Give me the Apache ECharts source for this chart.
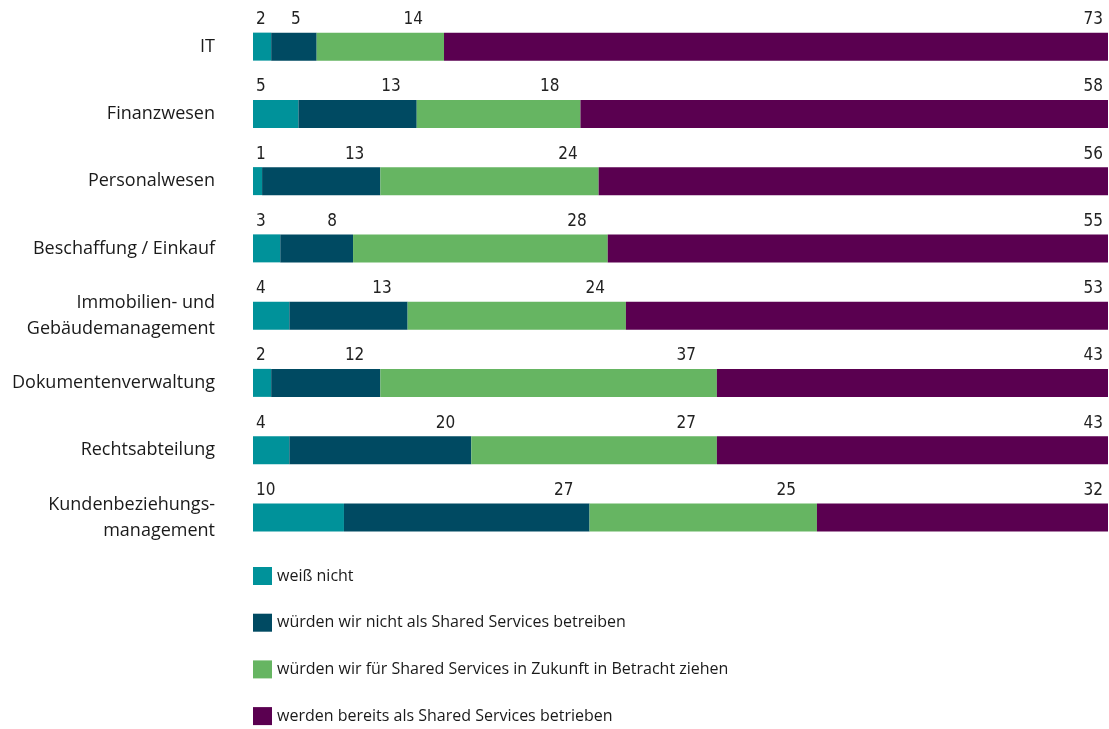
<!DOCTYPE html>
<html>
<head>
<meta charset="utf-8">
<script src="https://cdn.jsdelivr.net/npm/echarts@6/dist/echarts.min.js"></script>
<style>
html,body{margin:0;padding:0;background:#fff;}
#chart{width:1109px;height:729px;}
</style>
</head>
<body>
<div id="chart"></div>
<script>
const categories = [
  "IT",
  "Finanzwesen",
  "Personalwesen",
  "Beschaffung / Einkauf",
  "Immobilien- und\nGebäudemanagement",
  "Dokumentenverwaltung",
  "Rechtsabteilung",
  "Kundenbeziehungs-\nmanagement"
];
const seriesNames = [
  "weiß nicht",
  "würden wir nicht als Shared Services betreiben",
  "würden wir für Shared Services in Zukunft in Betracht ziehen",
  "werden bereits als Shared Services betrieben"
];
const weissNicht   = [2, 5, 1, 3, 4, 2, 4, 10];
const nichtSSC     = [5, 13, 13, 8, 13, 12, 20, 27];
const zukunftSSC   = [14, 18, 24, 28, 24, 37, 27, 25];
const bereitsSSC   = [73, 58, 56, 55, 53, 43, 43, 32];

const colors = ["#00929A", "#004A62", "#66B562", "#5A0050"];
const valueFont = '"Liberation Sans Narrow","DejaVu Sans Condensed","Roboto",sans-serif';
const textFont = '"Open Sans","Noto Sans",sans-serif';

function mkLabel(idx) {
  const base = {
    show: true,
    fontFamily: valueFont,
    fontSize: 17,
    color: "#222",
    verticalAlign: "middle"
  };
  if (idx === 0) {
    return Object.assign(base, { position: [3, -13], align: "left" });
  }
  const offs = [0, -16, -21, -5];
  return Object.assign(base, { position: ["100%", -13], align: "right", offset: [offs[idx], 0] });
}

const dataSets = [weissNicht, nichtSSC, zukunftSSC, bereitsSSC];
const series = dataSets.map((d, i) => ({
  name: seriesNames[i],
  type: "bar",
  stack: "total",
  data: d,
  barWidth: 28,
  itemStyle: { color: colors[i] },
  label: mkLabel(i),
  emphasis: { disabled: true }
}));

const chart = echarts.init(document.getElementById("chart"), null, { renderer: "canvas" });
chart.setOption({
  animation: false,
  backgroundColor: "#fff",
  grid: { left: 253, right: 1, top: 13, bottom: 178, containLabel: false },
  xAxis: {
    type: "value",
    min: 0,
    max: 94,
    show: false
  },
  yAxis: {
    type: "category",
    data: categories,
    inverse: true,
    axisLine: { show: false },
    axisTick: { show: false },
    splitLine: { show: false },
    axisLabel: {
      margin: 38,
      fontFamily: textFont,
      fontSize: 18,
      color: "#1a1a1a",
      align: "right",
      lineHeight: 26
    }
  },
  legend: {
    orient: "vertical",
    left: 248,
    top: 562,
    height: 170,
    itemWidth: 19,
    itemHeight: 18,
    itemGap: 28.7,
    icon: "rect",
    selectedMode: false,
    data: seriesNames,
    textStyle: {
      fontFamily: textFont,
      fontSize: 16,
      color: "#1a1a1a",
      lineHeight: 18,
      padding: [0, 0, 0, 0]
    }
  },
  series: series
});
</script>
</body>
</html>
